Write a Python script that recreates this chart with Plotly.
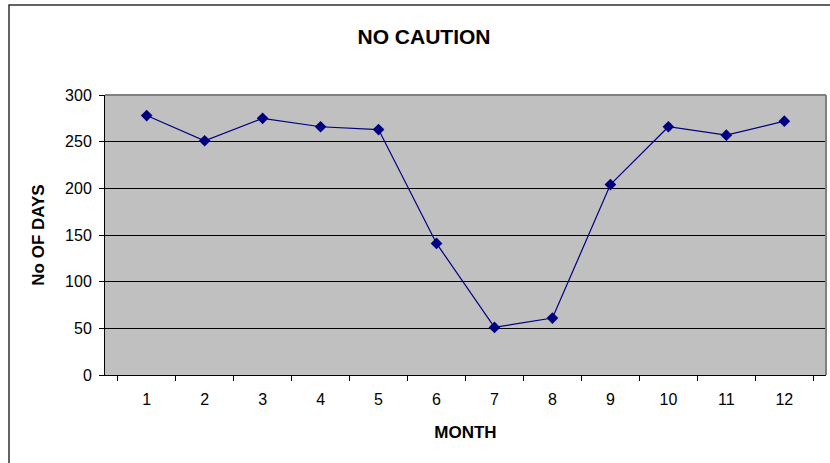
import plotly.graph_objects as go

# Monthly count of days with no caution
months = ["1", "2", "3", "4", "5", "6", "7", "8", "9", "10", "11", "12"]
days = [278, 251, 275, 266, 263, 141, 51, 61, 204, 266, 257, 272]
y_ticks = [0, 50, 100, 150, 200, 250, 300]

W, H = 830, 463
L, R, T, B = 105, 4, 95, 88
pw, ph = W - L - R, H - T - B

def px_x(x):
    return (x - L) / pw

def px_y(y):
    return (H - B - y) / ph

fig = go.Figure()
fig.add_trace(go.Scatter(
    x=months, y=days, mode="lines+markers",
    line=dict(color="#000080", width=1.2),
    marker=dict(symbol="diamond", size=9, color="#000080"),
    showlegend=False,
))

font_family = "Liberation Sans, Arial, sans-serif"

fig.update_layout(
    width=W, height=H,
    margin=dict(l=L, r=R, t=T, b=B),
    paper_bgcolor="white",
    plot_bgcolor="#C0C0C0",
    font=dict(family=font_family, size=16, color="black"),
    title=dict(
        text="<b>NO CAUTION</b>", x=424 / W, xref="container", xanchor="center",
        y=1 - 37 / H, yref="container", yanchor="middle",
        font=dict(size=21, family=font_family, color="black"),
    ),
    xaxis=dict(
        type="category", tickson="boundaries", ticks="outside", ticklen=5,
        tickcolor="black", showgrid=False, showline=True, linecolor="black",
        linewidth=1, zeroline=False, ticklabelstandoff=10,
        title=dict(text="<b>MONTH</b>", font=dict(size=17), standoff=18),
    ),
    yaxis=dict(
        range=[0, 300], tickvals=y_ticks, ticks="outside", ticklen=5,
        tickcolor="black", showgrid=True, gridcolor="black", gridwidth=1,
        showline=True, linecolor="black", linewidth=1, zeroline=False,
        ticklabelstandoff=4,
        title=dict(text="<b>No OF DAYS</b>", font=dict(size=17), standoff=16),
    ),
    shapes=[
        # gray border along top and right of the plot area
        dict(type="line", xref="paper", yref="paper", x0=0, x1=1, y0=1, y1=1,
             line=dict(color="#808080", width=2), layer="above"),
        dict(type="line", xref="paper", yref="paper", x0=1, x1=1, y0=0, y1=1,
             line=dict(color="#808080", width=2), layer="above"),
        # outer chart frame
        dict(type="rect", xref="paper", yref="paper",
             x0=px_x(9), x1=px_x(860), y0=px_y(5), y1=px_y(500),
             line=dict(color="#303030", width=1.5), layer="below"),
    ],
)

fig.write_html("out.html")
